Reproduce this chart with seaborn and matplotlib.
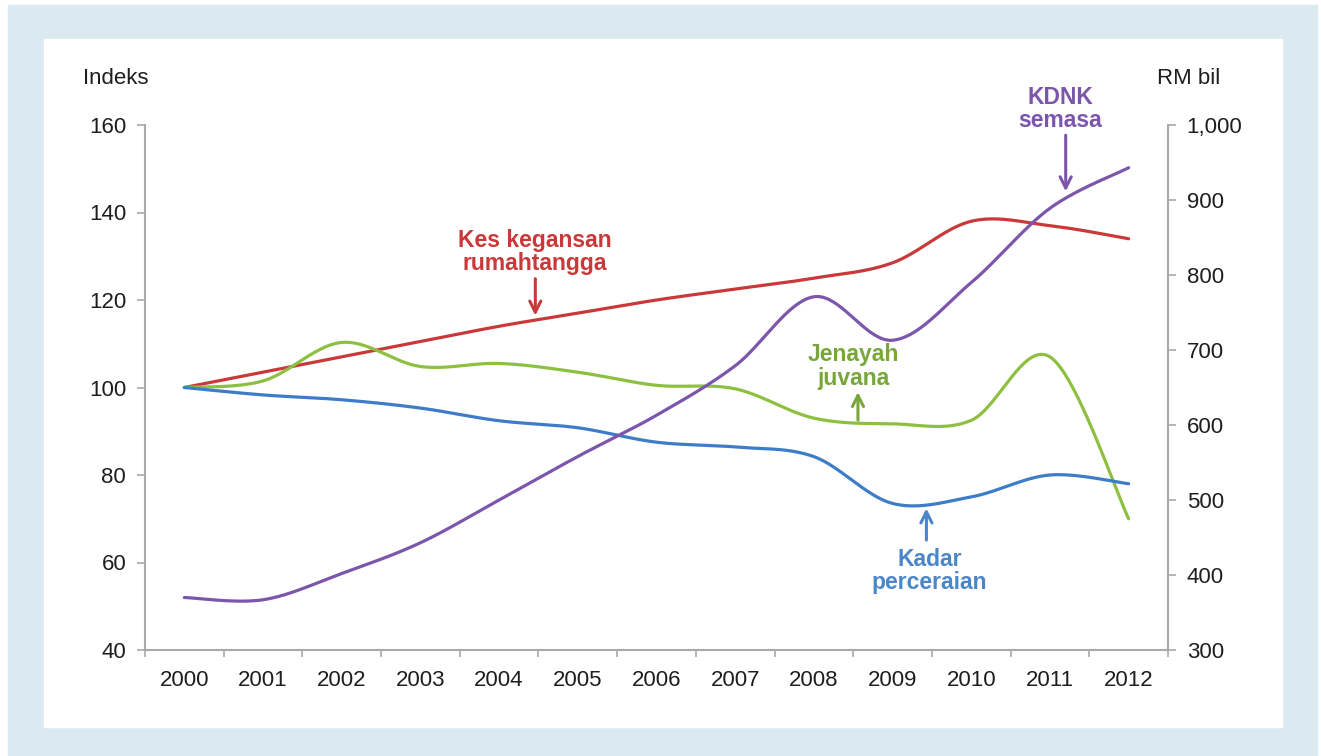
import numpy as np
import pandas as pd
import matplotlib
matplotlib.use("Agg")
import matplotlib.pyplot as plt
import seaborn as sns
from matplotlib.patches import Rectangle
from matplotlib.ticker import FuncFormatter, FixedLocator

# Data
years = ["2000", "2001", "2002", "2003", "2004", "2005", "2006",
         "2007", "2008", "2009", "2010", "2011", "2012"]
kes_keganasan = [100, 103.5, 107, 110.5, 114, 117, 120, 122.5, 125, 128.5, 138, 137, 134]
jenayah_juvana = [100, 101.5, 110.3, 104.8, 105.5, 103.5, 100.5, 99.7, 93, 91.7, 92.5, 107, 70]
kadar_perceraian = [100, 98.3, 97.2, 95.3, 92.4, 90.8, 87.5, 86.4, 84.2, 73.5, 75, 80, 78]
kdnk_semasa = [370, 367, 402, 443, 500, 558, 613, 679, 771, 713, 790, 889, 943]

# Colours
RED = "#c9393a"
GREEN = "#8dc041"
GREEN_TXT = "#78a63a"
BLUE = "#3d7cc9"
BLUE_TXT = "#4a86c8"
PURPLE = "#7c56ab"
AXIS_GREY = "#a9a9a9"
TXT = "#1e1e1e"

sns.set_theme(style="white")
plt.rcParams["font.family"] = ["Liberation Sans", "DejaVu Sans"]


def smooth(values, steps=40):
    # Excel-style smoothed line (Catmull-Rom through the points)
    y = np.asarray(values, dtype=float)
    x = np.arange(len(y), dtype=float)
    pts = np.column_stack([x, y])
    padded = np.vstack([pts[0], pts, pts[-1]])
    t = np.linspace(0, 1, steps, endpoint=False)[:, None]
    out = []
    for i in range(len(pts) - 1):
        p0, p1, p2, p3 = padded[i], padded[i + 1], padded[i + 2], padded[i + 3]
        c1 = p1 + (p2 - p0) / 6
        c2 = p2 - (p3 - p1) / 6
        seg = (1 - t) ** 3 * p1 + 3 * (1 - t) ** 2 * t * c1 + 3 * (1 - t) * t ** 2 * c2 + t ** 3 * p2
        out.append(seg)
    out.append(pts[-1:])
    arr = np.vstack(out)
    return pd.DataFrame({"x": arr[:, 0], "y": arr[:, 1]})


fig = plt.figure(figsize=(13.21, 7.56), dpi=100)
fig.patch.set_facecolor("white")
W, H = 1321, 756
fig.add_artist(Rectangle((8 / W, 0), (1317 - 8) / W, (H - 5) / H,
                         transform=fig.transFigure, color="#dbeaf1", zorder=-10))
fig.add_artist(Rectangle((44 / W, (H - 727) / H), (1282 - 44) / W, (727 - 39) / H,
                         transform=fig.transFigure, color="white", zorder=-9))

ax = fig.add_axes([145 / W, (H - 650) / H, (1168 - 145) / W, (650 - 125) / H])
ax.patch.set_alpha(0)
ax2 = ax.twinx()

lw = 2.3
sns.lineplot(data=smooth(kes_keganasan), x="x", y="y", sort=False, ax=ax, color=RED, lw=lw)
sns.lineplot(data=smooth(jenayah_juvana), x="x", y="y", sort=False, ax=ax, color=GREEN, lw=lw)
sns.lineplot(data=smooth(kadar_perceraian), x="x", y="y", sort=False, ax=ax, color=BLUE, lw=lw)
sns.lineplot(data=smooth(kdnk_semasa), x="x", y="y", sort=False, ax=ax2, color=PURPLE, lw=lw)

ax.set_xlim(-0.5, len(years) - 0.5)
ax.set_ylim(40, 160)
ax.set_yticks(np.arange(40, 161, 20))
ax2.set_ylim(300, 1000)
ax2.set_yticks(np.arange(300, 1001, 100))
ax2.yaxis.set_major_formatter(FuncFormatter(lambda v, p: f"{int(v):,}"))

ax.set_xticks(range(len(years)))
ax.set_xticklabels(years)
ax.xaxis.set_minor_locator(FixedLocator(np.arange(-0.5, len(years), 1.0)))
ax.tick_params(axis="x", which="major", length=0, pad=14.5, labelsize=16, labelcolor=TXT)
ax.tick_params(axis="x", which="minor", bottom=True, length=5, width=1.2, color=AXIS_GREY, direction="out")
ax.tick_params(axis="y", left=True, length=5.5, width=1.2, color=AXIS_GREY, direction="out",
               pad=8, labelsize=16, labelcolor=TXT)
ax2.tick_params(axis="y", right=True, length=5.5, width=1.2, color=AXIS_GREY, direction="out",
                pad=8, labelsize=16, labelcolor=TXT)

for a in (ax, ax2):
    a.set_xlabel("")
    a.set_ylabel("")
    a.grid(False)
    a.spines["top"].set_visible(False)
    for s in ("left", "bottom", "right"):
        a.spines[s].set_color(AXIS_GREY)
        a.spines[s].set_linewidth(1.5)
ax.spines["right"].set_visible(False)
ax2.spines["left"].set_visible(False)
ax2.spines["bottom"].set_visible(False)

fig.text(83 / W, 1 - 78 / H, "Indeks", fontsize=16, color=TXT, va="center", ha="left")
fig.text(1157 / W, 1 - 78 / H, "RM bil", fontsize=16, color=TXT, va="center", ha="left")

arrow = dict(arrowstyle="->", lw=2.2, mutation_scale=20)
lab = dict(fontsize=16.5, fontweight="bold", ha="center", va="center", linespacing=1.0)

ax.annotate("", xy=(4.46, 115.8), xytext=(4.46, 125.5),
            arrowprops=dict(arrow, color=RED))
ax.text(4.45, 131.0, "Kes kegansan\nrumahtangga", color=RED, **lab)

ax.annotate("", xy=(11.2, 144.2), xytext=(11.2, 158.3),
            arrowprops=dict(arrow, color=PURPLE), annotation_clip=False)
ax.text(11.13, 163.7, "KDNK\nsemasa", color=PURPLE, clip_on=False, **lab)

ax.annotate("", xy=(8.56, 99.6), xytext=(8.56, 91.9),
            arrowprops=dict(arrow, color=GREEN_TXT))
ax.text(8.5, 104.8, "Jenayah\njuvana", color=GREEN_TXT, **lab)

ax.annotate("", xy=(9.43, 73.0), xytext=(9.43, 64.5),
            arrowprops=dict(arrow, color=BLUE_TXT))
ax.text(9.47, 58.0, "Kadar\nperceraian", color=BLUE_TXT, **lab)

fig.savefig("out.png", dpi=100)
